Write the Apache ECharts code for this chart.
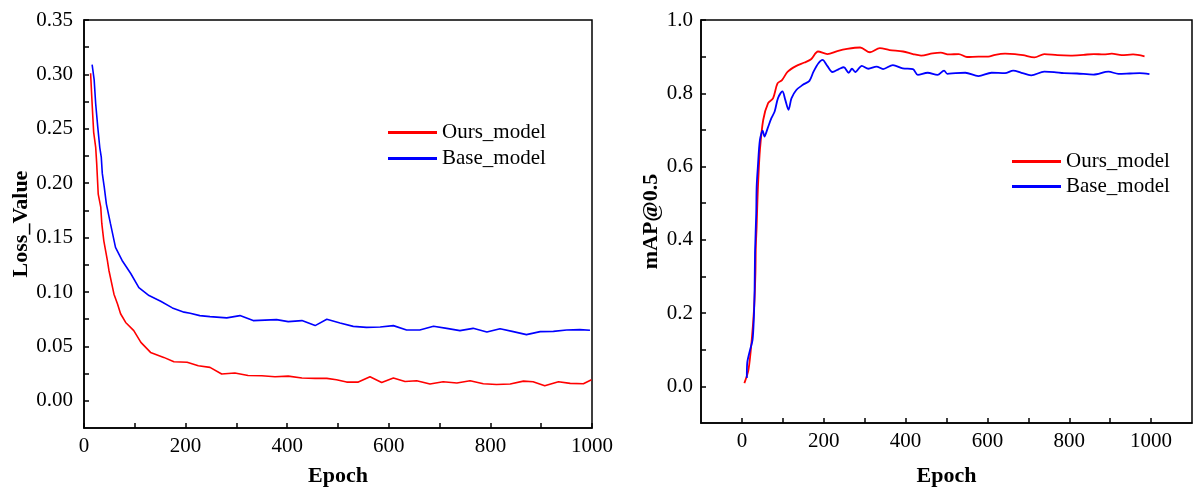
<!DOCTYPE html>
<html>
<head>
<meta charset="utf-8">
<script src="https://cdn.jsdelivr.net/npm/echarts@6/dist/echarts.min.js"></script>
<style>
  html, body { margin: 0; padding: 0; background: #fff; }
  #chart { width: 1203px; height: 488px; }
</style>
</head>
<body>
<div id="chart"></div>
<script>
// ---- data ----
const seriesNames = ['Ours_model', 'Base_model'];

// loss curves (left)
const lossOursEpoch = [13, 15, 17, 19, 23, 25, 28, 33, 35, 39, 46, 49, 59, 66, 72, 82, 98, 112, 131, 157, 177, 203, 225, 248, 271, 297, 323, 350, 376, 402, 429, 455, 478, 497, 517, 540, 563, 586, 609, 632, 655, 681, 707, 734, 760, 786, 812, 839, 865, 884, 907, 934, 957, 983, 999];
const lossOurs = [0.301, 0.282, 0.264, 0.247, 0.233, 0.218, 0.190, 0.178, 0.163, 0.147, 0.129, 0.120, 0.098, 0.089, 0.080, 0.072, 0.0645, 0.0537, 0.0445, 0.0399, 0.0359, 0.0354, 0.0322, 0.0307, 0.0246, 0.0255, 0.0233, 0.0230, 0.0221, 0.0227, 0.0209, 0.0206, 0.0206, 0.0193, 0.0172, 0.0172, 0.0221, 0.0169, 0.0209, 0.0178, 0.0184, 0.0154, 0.0175, 0.0163, 0.0184, 0.0157, 0.0150, 0.0154, 0.0181, 0.0175, 0.0138, 0.0175, 0.0160, 0.0157, 0.0193];

const lossBaseEpoch = [16, 20, 23, 27, 31, 34, 36, 40, 44, 52, 62, 75, 92, 108, 128, 151, 174, 197, 209, 228, 248, 281, 307, 333, 379, 402, 429, 455, 478, 504, 530, 556, 583, 609, 635, 661, 688, 714, 740, 766, 793, 819, 845, 871, 898, 924, 950, 976, 996];
const lossBase = [0.309, 0.295, 0.273, 0.252, 0.233, 0.224, 0.209, 0.196, 0.181, 0.163, 0.141, 0.129, 0.117, 0.104, 0.0967, 0.0915, 0.0854, 0.0815, 0.0804, 0.0783, 0.0774, 0.0762, 0.0783, 0.0737, 0.0746, 0.0728, 0.0737, 0.0691, 0.0749, 0.0716, 0.0684, 0.0675, 0.0679, 0.0691, 0.0651, 0.0651, 0.0685, 0.0666, 0.0645, 0.0666, 0.0633, 0.0663, 0.0636, 0.0608, 0.0636, 0.0638, 0.0651, 0.0654, 0.0648];

// mAP curves (right)
const mapOursEpoch = [6, 16, 24, 30, 33, 34, 36, 38, 40, 44, 52, 64, 76, 87, 98, 112, 132, 153, 169, 186, 209, 233, 257, 289, 313, 337, 361, 394, 418, 438, 466, 486, 506, 530, 550, 578, 602, 619, 643, 667, 687, 715, 739, 771, 803, 835, 860, 884, 904, 928, 956, 984];
const mapOurs = [0.009, 0.045, 0.127, 0.218, 0.309, 0.382, 0.436, 0.509, 0.564, 0.645, 0.727, 0.773, 0.786, 0.827, 0.836, 0.859, 0.874, 0.884, 0.893, 0.914, 0.907, 0.915, 0.921, 0.925, 0.912, 0.923, 0.918, 0.914, 0.907, 0.903, 0.909, 0.911, 0.906, 0.907, 0.899, 0.900, 0.900, 0.905, 0.908, 0.907, 0.904, 0.898, 0.907, 0.904, 0.903, 0.905, 0.907, 0.906, 0.908, 0.904, 0.906, 0.901];

const mapBaseEpoch = [12, 13, 20, 26, 29, 31, 32, 35, 36, 39, 44, 51, 55, 63, 72, 80, 88, 99, 106, 114, 121, 133, 149, 165, 175, 187, 197, 209, 221, 237, 249, 261, 269, 277, 293, 309, 329, 345, 369, 393, 418, 430, 454, 478, 494, 502, 522, 546, 578, 610, 643, 663, 683, 707, 739, 763, 787, 819, 859, 896, 920, 948, 972, 996];
const mapBase = [0.023, 0.064, 0.100, 0.127, 0.182, 0.264, 0.364, 0.473, 0.545, 0.600, 0.673, 0.698, 0.682, 0.705, 0.732, 0.750, 0.786, 0.805, 0.782, 0.755, 0.786, 0.809, 0.823, 0.834, 0.859, 0.882, 0.891, 0.874, 0.858, 0.866, 0.871, 0.856, 0.867, 0.858, 0.875, 0.867, 0.873, 0.866, 0.877, 0.868, 0.866, 0.850, 0.856, 0.850, 0.862, 0.853, 0.855, 0.856, 0.847, 0.856, 0.855, 0.862, 0.856, 0.849, 0.859, 0.858, 0.855, 0.854, 0.851, 0.859, 0.853, 0.854, 0.855, 0.852];

// tick labels / tick marks
const lossXLabels = [0, 200, 400, 600, 800, 1000];
const lossXTicks = [0, 100, 200, 300, 400, 500, 600, 700, 800, 900, 1000];
const lossYLabels = [0, 0.05, 0.10, 0.15, 0.20, 0.25, 0.30, 0.35];
const lossYTicks = [0, 0.025, 0.05, 0.075, 0.10, 0.125, 0.15, 0.175, 0.20, 0.225, 0.25, 0.275, 0.30, 0.325, 0.35];
const mapXLabels = [0, 200, 400, 600, 800, 1000];
const mapXTicks = [0, 100, 200, 300, 400, 500, 600, 700, 800, 900, 1000];
const mapYLabels = [0, 0.2, 0.4, 0.6, 0.8, 1.0];
const mapYTicks = [0, 0.1, 0.2, 0.3, 0.4, 0.5, 0.6, 0.7, 0.8, 0.9, 1.0];

const zip = (xs, ys) => xs.map((x, i) => [x, ys[i]]);

const FONT = 'Liberation Serif';
const RED = '#ff0000';
const BLUE = '#0000ff';

function valueAxis(extra) {
    return Object.assign({
        type: 'value',
        axisLine: { show: true, onZero: false, lineStyle: { color: '#000', width: 1.5 } },
        splitLine: { show: false },
        nameTextStyle: { fontFamily: FONT, fontSize: 22, fontWeight: 'bold', color: '#000' },
        nameLocation: 'middle'
    }, extra);
}

function ticks(values) {
    return { show: true, inside: true, length: 5, customValues: values, lineStyle: { color: '#000', width: 1.5 } };
}

const chart = echarts.init(document.getElementById('chart'), null, { renderer: 'canvas' });

const option = {
    animation: false,
    backgroundColor: '#fff',
    grid: [
        { left: 84, top: 20, width: 508, height: 408, show: true, borderColor: '#000', borderWidth: 1.5, outerBoundsMode: 'none', containLabel: false },
        { left: 701, top: 20, width: 491, height: 403, show: true, borderColor: '#000', borderWidth: 1.5, outerBoundsMode: 'none', containLabel: false }
    ],
    legend: [
        {
            data: seriesNames, orient: 'vertical', left: 383, top: 117,
            icon: 'rect', itemWidth: 49, itemHeight: 3, itemGap: 5,
            textStyle: { fontFamily: FONT, fontSize: 21, color: '#000', lineHeight: 21 }
        },
        {
            data: seriesNames, orient: 'vertical', left: 1007, top: 146,
            icon: 'rect', itemWidth: 49, itemHeight: 3, itemGap: 4,
            textStyle: { fontFamily: FONT, fontSize: 21, color: '#000', lineHeight: 21 }
        }
    ],
    xAxis: [
        valueAxis({
            gridIndex: 0, min: 0, max: 1000, name: 'Epoch', nameGap: 37,
            axisLabel: { customValues: lossXLabels, fontFamily: FONT, fontSize: 21, color: '#000', margin: 8, formatter: v => String(v) },
            axisTick: ticks(lossXTicks)
        }),
        valueAxis({
            gridIndex: 1, min: -100, max: 1100, name: 'Epoch', nameGap: 42,
            axisLabel: { customValues: mapXLabels, fontFamily: FONT, fontSize: 21, color: '#000', margin: 8, formatter: v => String(v) },
            axisTick: ticks(mapXTicks)
        })
    ],
    yAxis: [
        valueAxis({
            gridIndex: 0, min: -0.025, max: 0.35, name: 'Loss_Value', nameGap: 51,
            axisLabel: {
                customValues: lossYLabels, fontFamily: FONT, fontSize: 21, color: '#000', margin: 11,
                formatter: v => v.toFixed(2)
            },
            axisTick: ticks(lossYTicks)
        }),
        valueAxis({
            gridIndex: 1, min: -0.1, max: 1.0, name: 'mAP@0.5', nameGap: 39,
            axisLabel: {
                customValues: mapYLabels, fontFamily: FONT, fontSize: 21, color: '#000', margin: 8,
                formatter: v => v.toFixed(1)
            },
            axisTick: ticks(mapYTicks)
        })
    ],
    series: [
        {
            name: 'Ours_model', type: 'line', xAxisIndex: 0, yAxisIndex: 0, symbol: 'none',
            data: zip(lossOursEpoch, lossOurs), lineStyle: { color: RED, width: 1.6 }, itemStyle: { color: RED }
        },
        {
            name: 'Base_model', type: 'line', xAxisIndex: 0, yAxisIndex: 0, symbol: 'none',
            data: zip(lossBaseEpoch, lossBase), lineStyle: { color: BLUE, width: 1.6 }, itemStyle: { color: BLUE }
        },
        {
            name: 'Ours_model', type: 'line', xAxisIndex: 1, yAxisIndex: 1, symbol: 'none', smooth: 0.3,
            data: zip(mapOursEpoch, mapOurs), lineStyle: { color: RED, width: 1.8 }, itemStyle: { color: RED }
        },
        {
            name: 'Base_model', type: 'line', xAxisIndex: 1, yAxisIndex: 1, symbol: 'none', smooth: 0.3,
            data: zip(mapBaseEpoch, mapBase), lineStyle: { color: BLUE, width: 1.8 }, itemStyle: { color: BLUE }
        }
    ]
};

chart.setOption(option);
</script>
</body>
</html>
